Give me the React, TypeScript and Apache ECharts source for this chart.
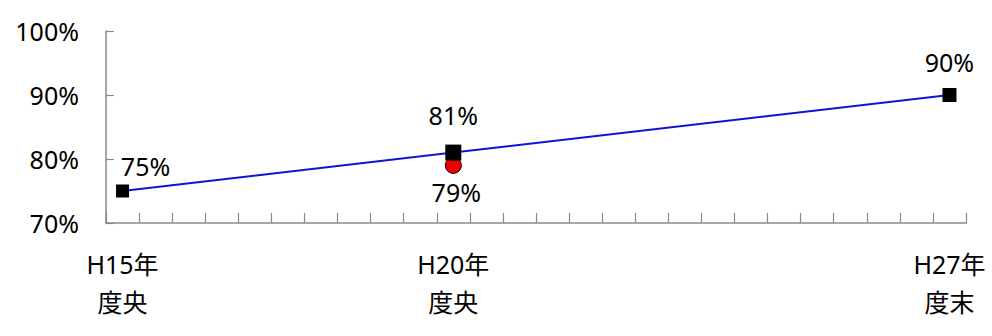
import React, { useEffect, useRef } from "react";
import * as echarts from "echarts";

// Half-year periods from H15 mid-year to H27 year-end
const periods = [
  "H15年\n度央", "H15年\n度末", "H16年\n度央", "H16年\n度末", "H17年\n度央", "H17年\n度末",
  "H18年\n度央", "H18年\n度末", "H19年\n度央", "H19年\n度末", "H20年\n度央", "H20年\n度末",
  "H21年\n度央", "H21年\n度末", "H22年\n度央", "H22年\n度末", "H23年\n度央", "H23年\n度末",
  "H24年\n度央", "H24年\n度末", "H25年\n度央", "H25年\n度末", "H26年\n度央", "H26年\n度末",
  "H27年\n度央", "H27年\n度末",
];
// Periods whose names are printed under the axis
const labeledPeriods = ["H15年\n度央", "H20年\n度央", "H27年\n度末"];

// Main rate series (black squares joined by the blue line)
const ratePeriods = ["H15年\n度央", "H20年\n度央", "H27年\n度末"];
const rateValues = [75, 81, 90];

// Separate survey result (red circle)
const altPeriods = ["H20年\n度央"];
const altValues = [79];

// Y-axis range in percent
const yMin = 70;
const yMax = 100;
const yStep = 10;

const FONT = "'Noto Sans', 'Noto Sans CJK JP', sans-serif";
const FONT_SIZE = 25;
const TEXT_COLOR = "#000";

export default function App() {
  const ref = useRef<HTMLDivElement>(null);

  useEffect(() => {
    if (!ref.current) return;
    const chart = echarts.init(ref.current, undefined, { renderer: "svg" });

    const rateLabelDistance = [6, 17, 14];
    const rateSymbolSize = [13, 16, 14];

    chart.setOption({
      animation: false,
      backgroundColor: "#ffffff",
      grid: { left: 106, right: 26, top: 31, bottom: 113 },
      xAxis: {
        type: "category",
        data: periods,
        boundaryGap: true,
        axisLine: { show: true, lineStyle: { color: "#8a8a8a", width: 1.5 } },
        axisTick: {
          show: true,
          inside: true,
          length: 10,
          interval: 0,
          alignWithLabel: false,
          lineStyle: { color: "#8a8a8a", width: 1.2 },
        },
        axisLabel: {
          interval: 0,
          margin: 22,
          fontFamily: FONT,
          fontSize: FONT_SIZE,
          lineHeight: 38,
          color: TEXT_COLOR,
          formatter: (v: string) => (labeledPeriods.includes(v) ? v : ""),
        },
        splitLine: { show: false },
      },
      yAxis: {
        type: "value",
        min: yMin,
        max: yMax,
        interval: yStep,
        axisLine: { show: true, lineStyle: { color: "#8a8a8a", width: 1.5 } },
        axisTick: {
          show: true,
          inside: true,
          length: 8,
          lineStyle: { color: "#8a8a8a", width: 1.2 },
        },
        axisLabel: {
          margin: 27,
          fontFamily: FONT,
          fontSize: FONT_SIZE,
          color: TEXT_COLOR,
          formatter: "{value}%",
        },
        splitLine: { show: false },
      },
      series: [
        {
          type: "line",
          data: ratePeriods.map((p, i) => ({
            value: [p, rateValues[i]],
            symbolSize: rateSymbolSize[i],
            label: {
              distance: rateLabelDistance[i],
              offset: i === 0 ? [23, 0] : [0, 0],
            },
          })),
          symbol: "rect",
          itemStyle: { color: "#000000" },
          lineStyle: { color: "#1212d6", width: 2 },
          label: {
            show: true,
            position: "top",
            fontFamily: FONT,
            fontSize: FONT_SIZE,
            lineHeight: 25,
            color: TEXT_COLOR,
            formatter: (p: any) => `${p.value[1]}%`,
          },
          z: 3,
        },
        {
          type: "scatter",
          data: altPeriods.map((p, i) => [p, altValues[i]]),
          symbol: "circle",
          symbolSize: 16,
          itemStyle: { color: "#ee0000", borderColor: "#000000", borderWidth: 1, opacity: 1 },
          label: {
            show: true,
            position: "bottom",
            distance: 6,
            offset: [3, 0],
            fontFamily: FONT,
            fontSize: FONT_SIZE,
            lineHeight: 25,
            color: TEXT_COLOR,
            formatter: (p: any) => `${p.value[1]}%`,
          },
          z: 2,
        },
      ],
    });

    return () => chart.dispose();
  }, []);

  return (
    <div
      ref={ref}
      style={{ position: "fixed", left: 0, top: 0, width: 992, height: 336, background: "#fff" }}
    />
  );
}
